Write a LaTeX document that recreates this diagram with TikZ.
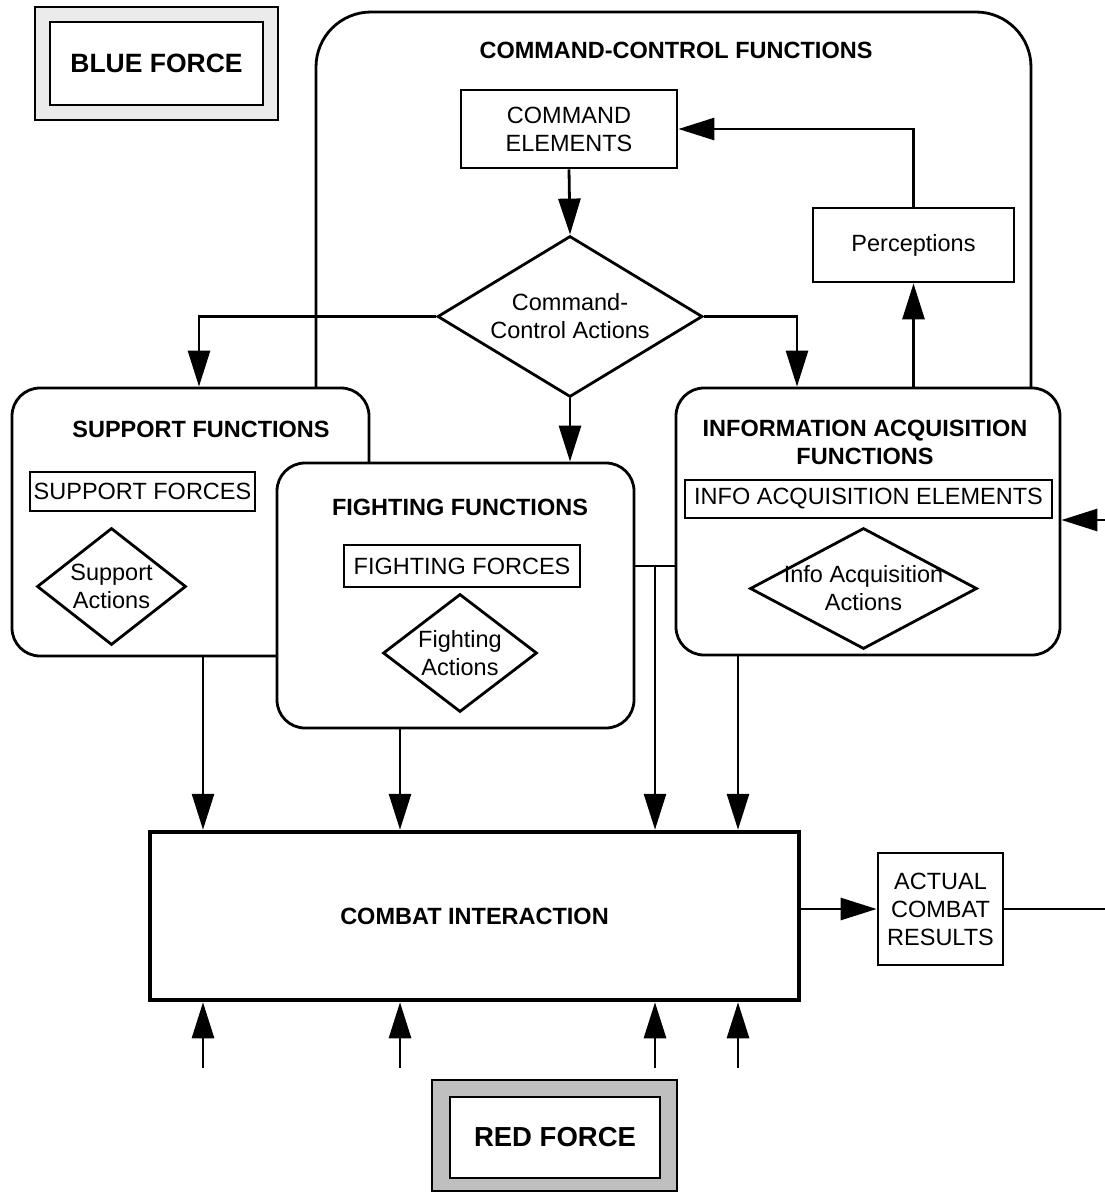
\documentclass[tikz,border=0pt]{standalone}
\usepackage{fontspec}
\setmainfont{Liberation Sans}
\usepackage{tikz}
\usetikzlibrary{positioning,shapes.geometric,arrows.meta}

\begin{document}
\begin{tikzpicture}[
    x=1pt, y=-1pt,
    font=\fontsize{23.5}{28}\selectfont,
    cbox/.style={rectangle, draw=black, line width=2.8pt, fill=white,
        text centered, align=center, inner sep=0pt, text=black},
    func/.style={cbox, rounded corners=28pt},
    act/.style={diamond, draw=black, line width=2.8pt, fill=white,
        text centered, align=center, inner sep=-20pt, text=black},
    head/.style={font=\fontsize{23.5}{28}\selectfont\bfseries, align=center},
    arr/.style={line width=2.8pt, -{Triangle[length=36pt,width=22pt]}},
    lnk/.style={line width=2.8pt}
]
\useasboundingbox (0,0) rectangle (1105,1194);

% force labels
\node (B0) [cbox, fill=black!8, line width=2pt, minimum width=243pt, minimum height=113pt] at (156.5,63.5) {};
\node (B1) [cbox, line width=2pt, minimum width=213pt, minimum height=83pt,
    font=\fontsize{26.5}{30}\selectfont\bfseries] at (156.5,63.5) {BLUE FORCE};
\node (R0) [cbox, fill=black!25, line width=2.4pt, minimum width=245pt, minimum height=111pt] at (554.5,1135.5) {};
\node (R1) [cbox, line width=2.8pt, minimum width=210pt, minimum height=81pt,
    font=\fontsize{27.5}{30}\selectfont\bfseries] at (555,1137.5) {RED FORCE};

% command-control
\draw[lnk, rounded corners=55pt] (316,388) -- (316,12) -- (1031,12) -- (1031,388);
\node (C0) [head] at (676,50) {COMMAND-CONTROL FUNCTIONS};
\node (C1) [cbox, minimum width=216pt, minimum height=78pt] at (569,129) {COMMAND\\ELEMENTS};
\node (C2) [cbox, minimum width=201pt, minimum height=74pt] at (913.5,245) {Perceptions};
\node (C3) [act, aspect=1.65, minimum width=265pt, minimum height=161pt] at (570,316.5) {Command-\\Control Actions};

% support
\node (S0) [func, minimum width=357pt, minimum height=268pt] at (190.5,522) {};
\node (S1) [head] at (201,429) {SUPPORT FUNCTIONS};
\node (S2) [cbox, minimum width=225pt, minimum height=39pt] at (142.5,491.5) {SUPPORT FORCES};
\node (S3) [act, aspect=1.27, minimum width=149pt, minimum height=117pt] at (111.5,586.5) {Support\\Actions};

% fighting
\node (F0) [func, minimum width=357pt, minimum height=265pt] at (455.5,595.5) {};
\node (F1) [head] at (460,507) {FIGHTING FUNCTIONS};
\node (F2) [cbox, minimum width=236pt, minimum height=42pt] at (462,566) {FIGHTING FORCES};
\node (F3) [act, aspect=1.3, minimum width=154pt, minimum height=118pt] at (460,653) {Fighting\\Actions};

% information acquisition
\node (I0) [func, minimum width=384pt, minimum height=267pt] at (868,521.5) {};
\node (I1) [head] at (865,442) {INFORMATION ACQUISITION\\FUNCTIONS};
\node (I2) [cbox, minimum width=367pt, minimum height=38pt] at (868.5,499) {INFO ACQUISITION ELEMENTS};
\node (I3) [act, aspect=1.85, minimum width=227pt, minimum height=121pt] at (863.5,588.5) {Info Acquisition\\Actions};

% combat
\node (K0) [cbox, line width=4.5pt, minimum width=649pt, minimum height=168pt,
    font=\fontsize{23.5}{28}\selectfont\bfseries] at (474.5,916) {COMBAT INTERACTION};
\node (K1) [cbox, minimum width=125pt, minimum height=112pt] at (940.5,909) {ACTUAL\\COMBAT\\RESULTS};

% connectors
\draw[arr] (C2.north) |- (C1.east);
\draw[arr] (C1.south) -- (C3.north);
\draw[arr] (C3.west) -| ([xshift=8.5pt]S0.north);
\draw[arr] (C3.east) -| ([xshift=-71pt]I0.north);
\draw[arr] (C3.south) -- (C3.south |- F0.north);
\draw[arr] (C2.south |- I0.north) -- (C2.south);
\draw[lnk] (F0.east |- F2.east) -- (I0.west |- F2.east);
\coordinate (J1) at (655,566);
\foreach \x [count=\i] in {203,400,655,738}
    \coordinate (P\i) at (\x,1068);
\draw[arr] (S0.south -| P1) -- (K0.north -| P1);
\draw[arr] (F0.south -| P2) -- (K0.north -| P2);
\draw[arr] (J1) -- (K0.north -| P3);
\draw[arr] (I0.south -| P4) -- (K0.north -| P4);
\foreach \i in {1,...,4}
    \draw[arr] (P\i) -- (P\i |- K0.south);
\draw[arr] (K0.east |- K1.west) -- (K1.west);
\coordinate (E1) at (1105,909);
\coordinate (E2) at (1105,520);
\draw[lnk] (K1.east) -- (E1);
\draw[arr] (E2) -- (E2 -| I0.east);

\end{tikzpicture}
\end{document}
